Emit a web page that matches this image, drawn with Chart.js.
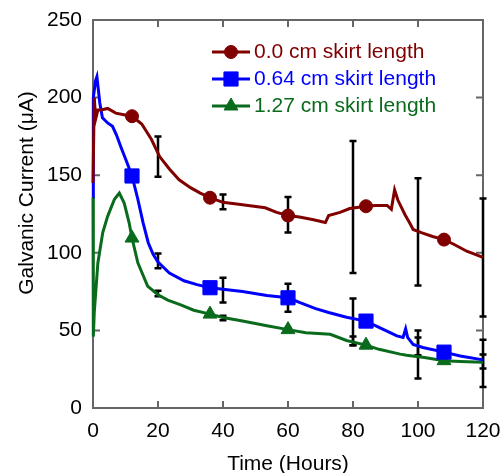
<!DOCTYPE html>
<html>
<head>
<meta charset="utf-8">
<script src="https://cdn.jsdelivr.net/npm/chart.js@4.4.1/dist/chart.umd.min.js"></script>
<style>
  body { margin: 0; background: #fff; }
</style>
</head>
<body>
<canvas id="currentChart" width="502" height="473"></canvas>
<script>
// series (hours, µA)
const hours0 = [0, 0.4, 0.8, 1.5, 2.5, 4.5, 7, 9.5, 12, 15, 18, 20.5, 23.5, 26.5, 30, 33, 36, 40, 46, 53, 56.5, 60, 63.5, 67.5, 71.5, 72.5, 76, 79, 84, 87, 90.5, 91.8, 92.8, 93.8, 96, 97.5, 98.5, 101, 104.5, 108, 111, 115, 120];
const current0 = [145, 200, 186, 192, 192, 193, 190, 189, 188, 183, 173, 162, 154, 147, 142, 138.5, 135.5, 132.5, 131, 129, 126, 124, 123, 121.5, 119.5, 124, 126, 128.5, 130, 130.5, 130.5, 128, 140.5, 134, 124.5, 119, 115, 113, 110.5, 108.5, 105.5, 101, 97];

const hours064 = [0, 0.1, 0.8, 1.2, 2.1, 2.9, 4.6, 6, 7.2, 8.7, 10.3, 12, 13.8, 15.4, 17, 18.5, 20, 23.5, 28, 32, 36, 40, 46, 53.5, 60, 63.5, 68.5, 72.5, 78, 84, 88, 93.5, 95.4, 96.2, 96.8, 98.5, 101.5, 108, 113, 120];
const current064 = [136, 200, 211, 213.5, 196.5, 187, 183.5, 181.5, 176, 167.5, 159, 149.5, 134.5, 119.5, 106.5, 99, 94, 87, 82, 79.5, 77.5, 76.5, 75, 72.5, 71, 68, 64, 61.5, 58.5, 56, 52, 46.5, 45.5, 51, 45.5, 41, 39, 36, 33.5, 31];

const hours127 = [0, 0.1, 0.4, 1.5, 3, 4.5, 6.6, 8.1, 9.6, 11.1, 12, 13.8, 16.8, 20, 23, 27, 31, 36, 40, 46, 53.5, 60, 65.5, 73, 78, 84, 88, 94.5, 96.5, 102, 108, 113, 120];
const current127 = [136, 46, 62, 93.5, 113, 123.5, 134.5, 138.5, 132, 119.5, 109.5, 93.5, 78.5, 73, 69.5, 66.5, 63, 60.5, 58.3, 56, 53, 50.5, 48.5, 47.5, 43.5, 40.5, 37.8, 34.7, 34, 32.5, 30.5, 30, 29.5];

// markers sit on these hours
const markerHours = [12, 36, 60, 84, 108];

// error bars
const errorHours = [20, 40, 60, 80, 100, 120];
const errLow0 = [149, 128, 113, 87, 79, 59];
const errHigh0 = [175, 137.5, 136, 172, 148, 135];
const errLow064 = [90, 68, 62, 40.5, 34, 13.5];
const errHigh064 = [99.5, 84, 80, 70.5, 50, 44];
const errLow127 = [72, 56.5, 49.5, 40.5, 19, 25.5];
const errHigh127 = [75.5, 59.5, 51.5, 46, 45.5, 34.5];

const seriesLabels = ['0.0 cm skirt length', '0.64 cm skirt length', '1.27 cm skirt length'];
const xTicks = [0, 20, 40, 60, 80, 100, 120];
const yTicks = [0, 50, 100, 150, 200, 250];

const FONT = '"Liberation Sans", Arial, sans-serif';
const colors = ['#800000', '#0000ff', '#0b6b1d'];
const styles = ['circle', 'rect', 'triangle'];
const radii = [6.5, 10, 8];

const toPoints = (hours, values) => hours.map((h, i) => ({ x: h, y: values[i] }));

const makeDataset = (i, hours, values) => ({
  label: seriesLabels[i],
  data: toPoints(hours, values),
  borderColor: colors[i],
  backgroundColor: colors[i],
  borderWidth: 3,
  tension: 0,
  pointStyle: styles[i],
  pointRadius: (ctx) => (ctx.raw && markerHours.includes(ctx.raw.x) ? radii[i] : 0),
  pointHoverRadius: 0,
  pointBorderWidth: 1,
  clip: false
});

// box round the plot with inward ticks on all four sides
const framePlugin = {
  id: 'frame',
  beforeDatasetsDraw(chart) {
    const { ctx, chartArea: a, scales: { x, y } } = chart;
    ctx.save();
    ctx.strokeStyle = '#666';
    ctx.lineWidth = 2;
    ctx.strokeRect(a.left, a.top, a.right - a.left, a.bottom - a.top);
    ctx.beginPath();
    xTicks.forEach(v => {
      const px = x.getPixelForValue(v);
      ctx.moveTo(px, a.bottom); ctx.lineTo(px, a.bottom - 7);
      ctx.moveTo(px, a.top); ctx.lineTo(px, a.top + 7);
    });
    yTicks.forEach(v => {
      const py = y.getPixelForValue(v);
      ctx.moveTo(a.left, py); ctx.lineTo(a.left + 7, py);
      ctx.moveTo(a.right, py); ctx.lineTo(a.right - 7, py);
    });
    ctx.stroke();
    ctx.restore();
  }
};

const errorPlugin = {
  id: 'errorBars',
  beforeDatasetsDraw(chart) {
    const { ctx, scales: { x, y } } = chart;
    const sets = [[errLow0, errHigh0], [errLow064, errHigh064], [errLow127, errHigh127]];
    ctx.save();
    ctx.strokeStyle = '#000';
    ctx.lineWidth = 2.5;
    sets.forEach(([lo, hi]) => {
      errorHours.forEach((h, i) => {
        const px = x.getPixelForValue(h);
        const p1 = y.getPixelForValue(lo[i]);
        const p2 = y.getPixelForValue(hi[i]);
        ctx.beginPath();
        ctx.moveTo(px, p1); ctx.lineTo(px, p2);
        ctx.moveTo(px - 3.5, p1); ctx.lineTo(px + 3.5, p1);
        ctx.moveTo(px - 3.5, p2); ctx.lineTo(px + 3.5, p2);
        ctx.stroke();
      });
    });
    ctx.restore();
  }
};

// legend with line + marker, and the rotated y title
const legendPlugin = {
  id: 'lineLegend',
  afterDraw(chart) {
    const { ctx, chartArea: a } = chart;
    ctx.save();
    chart.data.datasets.forEach((ds, i) => {
      const rowY = a.top + 32 + i * 27;
      const x0 = a.left + 119;
      ctx.strokeStyle = colors[i];
      ctx.fillStyle = colors[i];
      ctx.lineWidth = 3;
      ctx.beginPath();
      ctx.moveTo(x0, rowY); ctx.lineTo(x0 + 38, rowY);
      ctx.stroke();
      ctx.lineWidth = 1;
      Chart.helpers.drawPoint(ctx, { pointStyle: styles[i], radius: radii[i], rotation: 0, borderWidth: 1 }, x0 + 19, rowY);
      ctx.font = '21px ' + FONT;
      ctx.textBaseline = 'middle';
      ctx.textAlign = 'left';
      ctx.fillText(ds.label, x0 + 42, rowY);
    });
    ctx.fillStyle = '#000';
    ctx.font = '21px ' + FONT;
    ctx.textAlign = 'center';
    ctx.textBaseline = 'middle';
    ctx.translate(27, a.top + 173);
    ctx.rotate(-Math.PI / 2);
    ctx.fillText('Galvanic Current (\u03bcA)', 0, 0);
    ctx.restore();
  }
};

const chart = new Chart(document.getElementById('currentChart').getContext('2d'), {
  type: 'line',
  data: {
    datasets: [
      makeDataset(0, hours0, current0),
      makeDataset(1, hours064, current064),
      makeDataset(2, hours127, current127)
    ]
  },
  options: {
    responsive: false,
    animation: false,
    events: [],
    layout: { padding: { top: 20, right: 19, left: 0, bottom: 0 } },
    plugins: { legend: { display: false }, tooltip: { enabled: false } },
    scales: {
      x: {
        type: 'linear',
        min: 0,
        max: 120,
        afterBuildTicks: (scale) => { scale.ticks = xTicks.map(v => ({ value: v })); },
        ticks: { color: '#000', font: { size: 21, family: FONT }, padding: 11, maxRotation: 0, autoSkip: false },
        grid: { display: false, drawTicks: false },
        border: { display: false },
        title: { display: true, text: 'Time (Hours)', color: '#000', font: { size: 21, family: FONT, lineHeight: 0.82 }, padding: { top: 0, bottom: 0 } },
        afterFit: (scale) => { scale.height = 65; scale.paddingLeft = 0; scale.paddingRight = 0; }
      },
      y: {
        type: 'linear',
        min: 0,
        max: 250,
        afterBuildTicks: (scale) => { scale.ticks = yTicks.map(v => ({ value: v })); },
        ticks: { color: '#000', font: { size: 21, family: FONT }, padding: 11, autoSkip: false },
        grid: { display: false, drawTicks: false },
        border: { display: false },
        afterFit: (scale) => { scale.width = 93; scale.paddingTop = 0; scale.paddingBottom = 0; }
      }
    }
  },
  plugins: [framePlugin, errorPlugin, legendPlugin]
});
</script>
</body>
</html>
